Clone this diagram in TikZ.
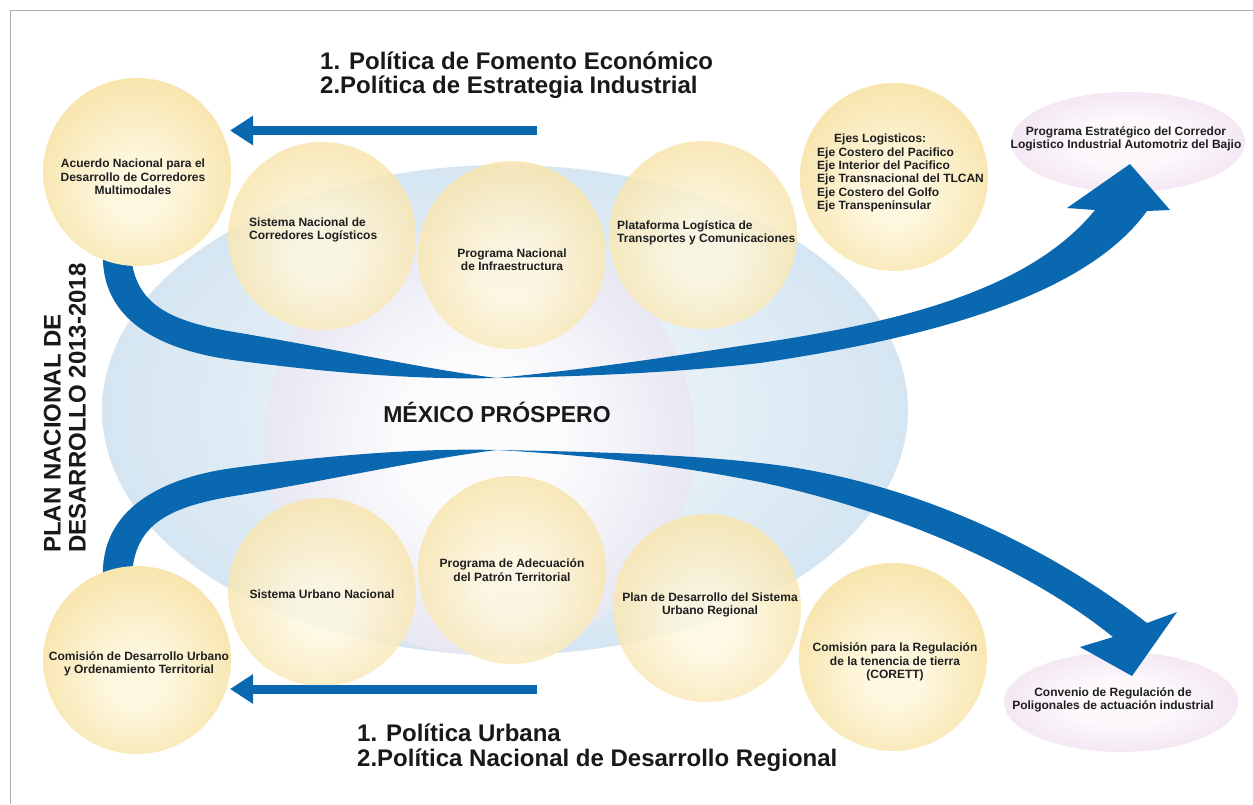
\documentclass[tikz,border=0pt]{standalone}
\usepackage{fontspec}
\setmainfont{Liberation Sans}
\usetikzlibrary{arrows.meta,shapes.geometric}
\definecolor{bandblue}{RGB}{10,104,176}
\definecolor{ycen}{RGB}{254,248,225}
\definecolor{yedge}{RGB}{243,214,132}
\definecolor{bcen}{RGB}{230,240,247}
\definecolor{bedge}{RGB}{180,209,231}
\definecolor{lcen}{RGB}{252,252,254}
\definecolor{ledge}{RGB}{200,198,224}
\definecolor{pcen}{RGB}{252,248,252}
\definecolor{pedge}{RGB}{228,200,226}
\definecolor{framegray}{RGB}{175,175,175}
\pgfdeclareradialshading{yball}{\pgfpoint{0bp}{-6bp}}{color(0bp)=(ycen); color(7bp)=(ycen); color(44bp)=(yedge); color(50bp)=(yedge)}
\pgfdeclareradialshading{bell}{\pgfpoint{0bp}{0bp}}{color(0bp)=(bcen); color(12bp)=(bcen); color(50bp)=(bedge)}
\pgfdeclareradialshading{lavball}{\pgfpoint{0bp}{0bp}}{color(0bp)=(lcen); color(9bp)=(lcen); color(50bp)=(ledge)}
\pgfdeclareradialshading{pinkball}{\pgfpoint{0bp}{0bp}}{color(0bp)=(pcen); color(12bp)=(pcen); color(50bp)=(pedge)}
\tikzset{
  lbl/.style={font=\bfseries\fontsize{12}{13.3}\selectfont, inner sep=0pt, align=center, text=black!88},
  ttl/.style={font=\bfseries\fontsize{24}{25}\selectfont, inner sep=0pt, text=black!90},
  ycirc/.style={circle, inner sep=0pt, minimum size=188pt, shade, shading=yball, fill opacity=0.85, draw=none},
  ycircsolid/.style={circle, inner sep=0pt, minimum size=188pt, shade, shading=yball, draw=none},
  pell/.style={ellipse, inner sep=0pt, minimum width=234pt, minimum height=100pt, shade, shading=pinkball, draw=none},
  band/.style={fill=bandblue, draw=none},
  flatarrow/.style={draw=bandblue, line width=9pt, -{Triangle[length=23pt,width=28pt]}},
}
\begin{document}
\begin{tikzpicture}[x=1pt,y=-1pt]
\useasboundingbox (0,0) rectangle (1253,804);
\fill[white] (0,0) rectangle (1253,804);
\draw[framegray, line width=1pt] (10,804) -- (10,10) -- (1253,10);

% central ellipses
\node[ellipse, inner sep=0pt, minimum width=806pt, minimum height=490pt, shade, shading=bell] (bigell) at (505,410) {};
\node[ellipse, inner sep=0pt, minimum width=430pt, minimum height=430pt, shade, shading=lavball] (lav) at (480,440) {};

% pink target ellipses
\node[pell] (pest) at (1128,142) {};
\node[pell] (conv) at (1121,702) {};

% curved bands
\fill[band] (131,255) .. controls (135,305) and (170,322) .. (240,333) .. controls (340,350) and (430,370) .. (497,378)
  .. controls (600,368) and (680,355) .. (760,343) .. controls (900,322) and (1030,290) .. (1095,210)
  -- (1067,208) -- (1130,164) -- (1170,210) -- (1147,211)
  .. controls (1090,290) and (950,335) .. (760,363) .. controls (680,372) and (600,376) .. (497,378)
  .. controls (420,380) and (330,373) .. (233,360) .. controls (160,350) and (100,320) .. (103,252) -- cycle;
\fill[band] (132,575) .. controls (135,523) and (170,506) .. (240,495) .. controls (340,478) and (430,458) .. (497,450)
  .. controls (590,455) and (680,466) .. (760,482) .. controls (900,512) and (1030,570) .. (1113,637)
  -- (1080,647) -- (1132,676) -- (1177,612) -- (1147,623)
  .. controls (1040,540) and (900,478) .. (760,463) .. controls (700,456) and (620,452) .. (497,450)
  .. controls (420,448) and (330,455) .. (233,468) .. controls (160,478) and (100,510) .. (103,578) -- cycle;

% circles
\node[ycircsolid] (acuerdo) at (137,172) {};
\node[ycirc] (sisnac) at (322,236) {};
\node[ycirc] (prognac) at (512,255) {};
\node[ycirc] (plataf) at (703,235) {};
\node[ycircsolid] (ejes) at (894,177) {};
\node[ycircsolid] (comdes) at (137,660) {};
\node[ycirc] (sisurb) at (322,592) {};
\node[ycirc] (progadec) at (512,570) {};
\node[ycirc] (plandes) at (707,608) {};
\node[ycircsolid] (corett) at (893,657) {};

% straight arrows
\coordinate (a1s) at (537,130.5);
\coordinate (a1e) at (230,130.5);
\draw[flatarrow] (a1s) -- (a1e);
\coordinate (a2s) at (537,689);
\coordinate (a2e) at (230,689);
\draw[flatarrow] (a2s) -- (a2e);

% labels
\node[lbl] (t-acuerdo) at (133,177) {Acuerdo Nacional para el\\Desarrollo de Corredores\\Multimodales};
\node[lbl, align=left, anchor=west] (t-sisnac) at (249,230) {Sistema Nacional de\\Corredores Logísticos};
\node[lbl] (t-prognac) at (512,260) {Programa Nacional\\de Infraestructura};
\node[lbl, align=left, anchor=west] (t-plataf) at (617,233) {Plataforma Logística de\\Transportes y Comunicaciones};
\node[lbl, align=left, anchor=west] (t-ejes) at (817,173) {\hspace*{17pt}Ejes Logisticos:\\Eje Costero del Pacifico\\Eje Interior del Pacifico\\Eje Transnacional del TLCAN\\Eje Costero del Golfo\\Eje Transpeninsular};
\node[lbl] (t-pest) at (1126,139) {Programa Estratégico del Corredor\\Logistico Industrial Automotriz del Bajio};
\node[lbl] (t-sisurb) at (322,594) {Sistema Urbano Nacional};
\node[lbl] (t-progadec) at (512,570) {Programa de Adecuación\\del Patrón Territorial};
\node[lbl] (t-plandes) at (710,605) {Plan de Desarrollo del Sistema\\Urbano Regional};
\node[lbl] (t-comdes) at (139,664) {Comisión de Desarrollo Urbano\\y Ordenamiento Territorial};
\node[lbl] (t-corett) at (895,662) {Comisión para la Regulación\\de la tenencia de tierra\\(CORETT)};
\node[lbl] (t-conv) at (1113,700) {Convenio de Regulación de\\Poligonales de actuación industrial};

% titles
\node[ttl, anchor=base west] (ttl1a) at (320,69) {1. Política de Fomento Económico};
\node[ttl, anchor=base west] (ttl1b) at (320,93) {2.Política de Estrategia Industrial};
\node[ttl, anchor=base west] (ttl2a) at (357,741) {1. Política Urbana};
\node[ttl, anchor=base west] (ttl2b) at (357,766) {2.Política Nacional de Desarrollo Regional};
\node[ttl, font=\bfseries\fontsize{23}{25}\selectfont] (mex) at (497,412) {MÉXICO PRÓSPERO};
\node[ttl, rotate=90, align=left, anchor=west] (plan) at (65,553) {PLAN NACIONAL DE\\DESARROLLO 2013-2018};
\end{tikzpicture}
\end{document}
